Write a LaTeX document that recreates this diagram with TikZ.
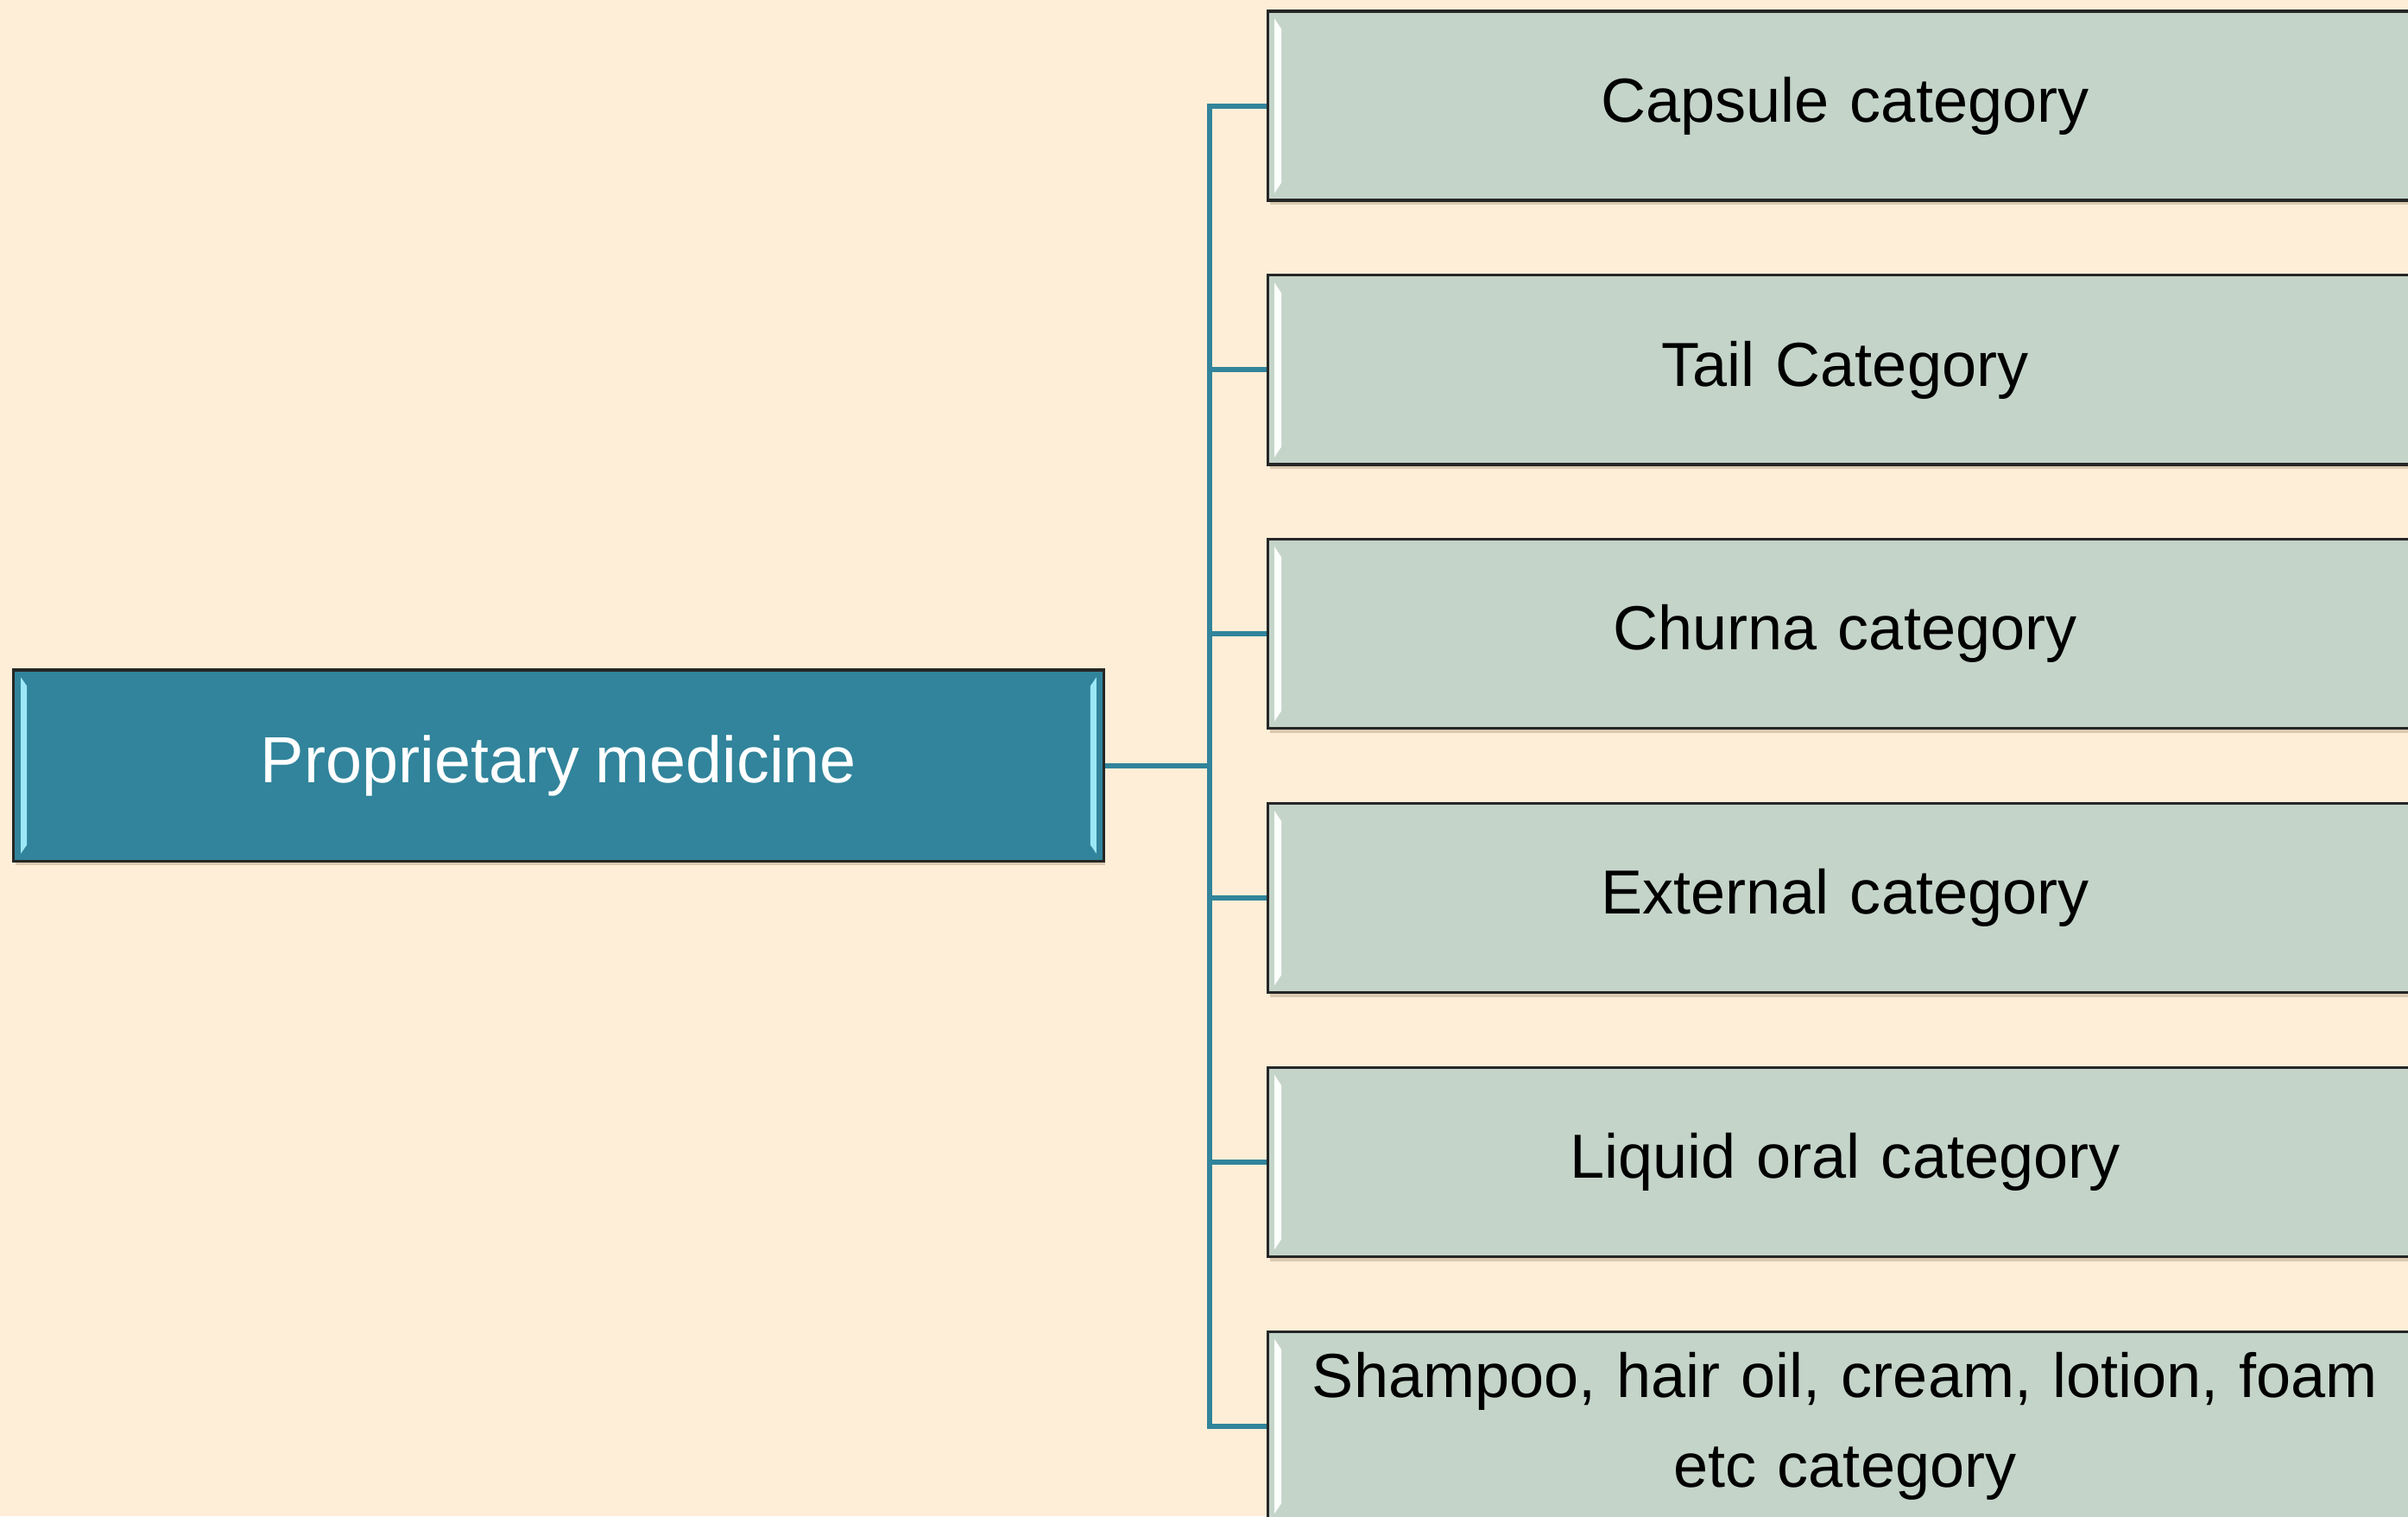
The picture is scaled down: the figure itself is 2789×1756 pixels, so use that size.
\documentclass[tikz,border=0pt]{standalone}
\usepackage{fontspec}
\setmainfont{Liberation Sans}[WordSpace=0.85]
\usetikzlibrary{calc,shadows}
\definecolor{bg}{HTML}{FEEED7}
\definecolor{rootc}{HTML}{31849B}
\definecolor{leafc}{HTML}{C4D4C9}
\definecolor{edgec}{HTML}{262626}
\definecolor{rootbevel}{HTML}{9CE8F8}
\definecolor{leafbevel}{HTML}{FBFFFC}
\definecolor{shadowc}{HTML}{9C8468}
\begin{document}
\begin{tikzpicture}[x=0.01cm,y=-0.01cm,
  boxbase/.style={draw=edgec, line width=0.9pt, inner sep=0pt,
    drop shadow={shadow xshift=0.02cm, shadow yshift=-0.05cm, opacity=0.35, fill=shadowc}},
  rootbox/.style={boxbase, fill=rootc, text=white, minimum width=12.62cm, minimum height=2.21cm,
    font=\fontsize{21.5}{30}\selectfont},
  leafbox/.style={boxbase, fill=leafc, text=black, minimum width=13.36cm, minimum height=2.19cm,
    text width=13cm, align=center, font=\fontsize{20.5}{29.5}\selectfont},
  conn/.style={draw=rootc, line width=1.7pt}
]
\useasboundingbox (0,0) rectangle (2789,1756);
\clip (0,0) rectangle (2789,1756);
\fill[bg] (0,0) rectangle (2789,1756);

\coordinate (j) at (1401,886.5);

\node[rootbox] (root) at (647,886.5) {Proprietary medicine};
\node[leafbox] (c1) at (2137,122.5) {Capsule category};
\node[leafbox] (c2) at (2137,428.4) {Tail Category};
\node[leafbox] (c3) at (2137,734.3) {Churna category};
\node[leafbox] (c4) at (2137,1040.2) {External category};
\node[leafbox] (c5) at (2137,1346.1) {Liquid oral category};
\node[leafbox] (c6) at (2137,1652) {Shampoo, hair oil, cream, lotion, foam\\etc category};

\draw[conn] (root.east) -- (j);
\foreach \n in {c1,c2,c3,c4,c5,c6} {
  \draw[conn] (j) |- (\n.west);
}

% bevel highlights
\foreach \n in {c1,c2,c3,c4,c5,c6} {
  \fill[leafbevel] ($(\n.north west)+(9,10)$) -- ($(\n.north west)+(17,22)$)
    -- ($(\n.south west)+(17,-22)$) -- ($(\n.south west)+(9,-10)$) -- cycle;
}
\fill[rootbevel] ($(root.north west)+(10,10)$) -- ($(root.north west)+(17,20)$)
  -- ($(root.south west)+(17,-20)$) -- ($(root.south west)+(10,-10)$) -- cycle;
\fill[rootbevel] ($(root.north east)+(-10,10)$) -- ($(root.north east)+(-17,20)$)
  -- ($(root.south east)+(-17,-20)$) -- ($(root.south east)+(-10,-10)$) -- cycle;
\end{tikzpicture}
\end{document}
